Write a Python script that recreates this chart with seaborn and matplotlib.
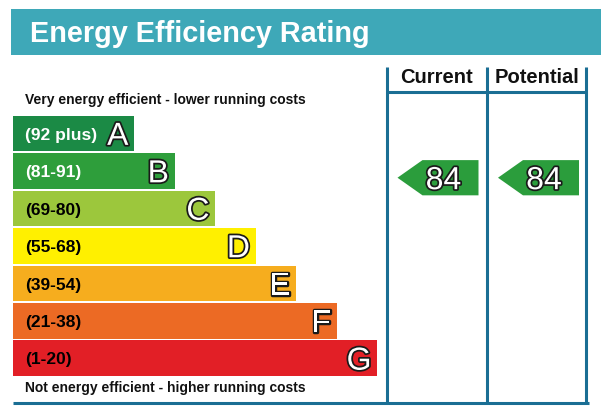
import matplotlib
matplotlib.use("Agg")
import matplotlib.pyplot as plt
import matplotlib.patheffects as pe
from matplotlib.patches import Rectangle, Polygon
from matplotlib.transforms import blended_transform_factory
import seaborn as sns
import pandas as pd

# ---------------- data ----------------
title = "Energy Efficiency Rating"
bands = ["A", "B", "C", "D", "E", "F", "G"]
ranges = ["(92 plus)", "(81-91)", "(69-80)", "(55-68)", "(39-54)", "(21-38)", "(1-20)"]
band_lo = [92, 81, 69, 55, 39, 21, 1]
band_hi = [100, 91, 80, 68, 54, 38, 20]
band_colors = ["#1b8a45", "#2e9e3b", "#9cc73c", "#fff000", "#f6ad1e", "#ec6a24", "#e21f26"]
range_text_colors = ["white", "white", "black", "black", "black", "black", "black"]
columns = ["Current", "Potential"]
scores = [84, 84]
top_note = "Very energy efficient - lower running costs"
bottom_note = "Not energy efficient - higher running costs"

# ---------------- style ----------------
TEAL = "#3ea8b8"
LINE = "#1a6e94"
ARROW = "#2b9d3c"

sns.set_theme(style="white")
plt.rcParams["font.family"] = ["Liberation Sans", "DejaVu Sans"]

W, H = 601, 420
fig = plt.figure(figsize=(W / 100, H / 100), dpi=100)
fig.patch.set_facecolor("white")

# background axes in pixel coordinates
bg = fig.add_axes([0, 0, 1, 1])
bg.set_xlim(0, W)
bg.set_ylim(H, 0)
bg.axis("off")

# title bar
bg.add_patch(Rectangle((11, 9), W - 11, 46, facecolor=TEAL, edgecolor="none"))
bg.text(30, 41.7, title, fontsize=20.8, fontweight="bold", color="white", va="baseline", ha="left")

# bars axes
bar_left_px = 13
bar_top_px, bar_bot_px = 114.7, 377.0
ax = fig.add_axes([bar_left_px / W, (H - bar_bot_px) / H, (W - bar_left_px) / W,
                   (bar_bot_px - bar_top_px) / H])
widths = [121 + 40.5 * i for i in range(len(bands))]
df = pd.DataFrame({"band": bands, "width": widths})
sns.barplot(data=df, x="width", y="band", hue="band", palette=band_colors, orient="h",
            width=0.95, saturation=1, legend=False, errorbar=None, linewidth=0, ax=ax)
ax.set_xlim(0, W - bar_left_px)
ax.set_ylim(len(bands) - 0.5, -0.5)
ax.axis("off")
ax.patch.set_alpha(0)

stroke = [pe.withStroke(linewidth=2.5, foreground="#1a1a1a")]
for i, (rng, letter, w) in enumerate(zip(ranges, bands, widths)):
    ax.annotate(rng, xy=(12, i), xytext=(0, -0.358 * 12.5), textcoords="offset points",
                ha="left", va="baseline", fontsize=12.5, fontweight="bold",
                color=range_text_colors[i])
    ax.annotate(letter, xy=(w - 5.5, i), xytext=(0, -0.358 * 23), textcoords="offset points",
                ha="right", va="baseline", fontsize=23, color="white", path_effects=stroke)

# notes
bg.text(25, 104, top_note, fontsize=10, fontweight="bold", color="#111111", va="baseline")
bg.text(25, 391.7, bottom_note, fontsize=10, fontweight="bold", color="#111111", va="baseline")

# column frame
col_x = [386.5, 487.0, 586.0]
lw = 2.2
for x in col_x:
    bg.plot([x, x], [67, 404], color=LINE, lw=lw, solid_capstyle="butt")
bg.plot([col_x[0], col_x[-1]], [91.5, 91.5], color=LINE, lw=lw, solid_capstyle="butt")
bg.plot([12.7, 589], [403, 403], color=LINE, lw=lw, solid_capstyle="butt")

for j, name in enumerate(columns):
    cx = (col_x[j] + col_x[j + 1]) / 2
    bg.text(cx, 83, name, fontsize=14.5, fontweight="bold", color="#111111",
            ha="center", va="baseline")

# arrows (x in pixels, y in band-axis units)
tr = blended_transform_factory(bg.transData, ax.transData)
for j, v in enumerate(scores):
    idx = next(k for k in range(len(bands)) if band_lo[k] <= v <= band_hi[k])
    yc = idx - 0.5 + (band_hi[idx] - v + 0.5) / (band_hi[idx] - band_lo[idx] + 1)
    tip = col_x[j] + 11
    right = tip + 81
    head = 25
    hh = 0.47
    poly = Polygon([(tip, yc), (tip + head, yc - hh), (right, yc - hh),
                    (right, yc + hh), (tip + head, yc + hh)], closed=True,
                   facecolor=ARROW, edgecolor="none", transform=tr)
    bg.add_patch(poly)
    bg.annotate(str(v), xy=(tip + 46, yc), xycoords=tr, xytext=(0, -0.358 * 23),
                textcoords="offset points", ha="center", va="baseline", fontsize=23,
                color="white", path_effects=stroke)

fig.savefig("out.png", dpi=100)
